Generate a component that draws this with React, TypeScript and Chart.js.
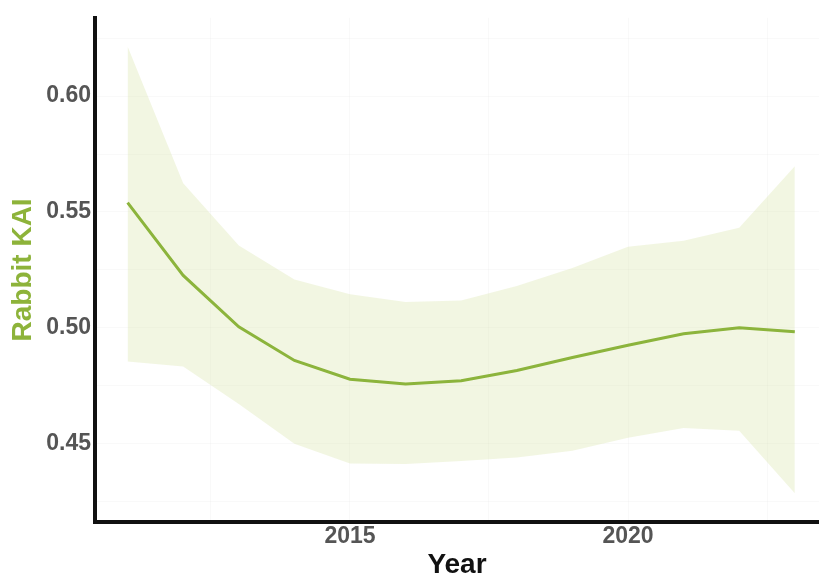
import React, { useEffect, useRef } from "react";
import { Chart, registerables } from "chart.js";

Chart.register(...registerables);

const years = [2011, 2012, 2013, 2014, 2015, 2016, 2017, 2018, 2019, 2020, 2021, 2022, 2023];
const kai = [0.554, 0.5226, 0.5004, 0.4859, 0.4778, 0.4758, 0.4772, 0.4816, 0.4872, 0.4925, 0.4974, 0.5, 0.4983];
const upper = [0.6214, 0.5624, 0.5355, 0.5209, 0.5145, 0.5111, 0.5118, 0.518, 0.5258, 0.535, 0.5376, 0.5432, 0.5697];
const lower = [0.4855, 0.4833, 0.4671, 0.45, 0.4415, 0.4412, 0.4425, 0.444, 0.447, 0.4526, 0.4568, 0.4556, 0.4286];

const xTickLabels = [2015, 2020];
const yTickLabels = [0.45, 0.5, 0.55, 0.6];
const xGridValues = [2012.5, 2015, 2017.5, 2020, 2022.5];
const yGridValues = [0.425, 0.45, 0.475, 0.5, 0.525, 0.55, 0.575, 0.6, 0.625];

const LINE_GREEN = "#8cb43c";
const TITLE_GREEN = "#8db33a";
const BAND = "rgba(205,220,140,0.25)";
const GRID = "rgba(0,0,0,0.025)";
const FONT = "'Liberation Sans', Arial, Helvetica, sans-serif";

function App() {
  const canvasRef = useRef<HTMLCanvasElement | null>(null);

  useEffect(() => {
    if (!canvasRef.current) return;
    const toPts = (vals: number[]) => years.map((y, i) => ({ x: y, y: vals[i] }));
    const chart = new Chart(canvasRef.current, {
      type: "line",
      data: {
        datasets: [
          {
            data: toPts(kai),
            borderColor: LINE_GREEN,
            borderWidth: 3,
            pointRadius: 0,
            fill: false,
            tension: 0,
          },
          {
            data: toPts(upper),
            borderWidth: 0,
            borderColor: "rgba(0,0,0,0)",
            backgroundColor: BAND,
            pointRadius: 0,
            fill: "+1",
            tension: 0,
          },
          {
            data: toPts(lower),
            borderWidth: 0,
            borderColor: "rgba(0,0,0,0)",
            pointRadius: 0,
            fill: false,
            tension: 0,
          },
        ],
      },
      options: {
        animation: false,
        responsive: false,
        devicePixelRatio: 1,
        layout: { padding: { top: 13, left: 0, right: 0, bottom: 0 } },
        plugins: {
          legend: { display: false },
          tooltip: { enabled: false },
          filler: { drawTime: "beforeDatasetsDraw" },
        },
        scales: {
          x: {
            type: "linear",
            min: 2010.414,
            max: 2023.435,
            afterFit: (s: any) => {
              s.height = 59;
            },
            afterBuildTicks: (s: any) => {
              s.ticks = xGridValues.map((v) => ({ value: v }));
            },
            grid: { color: GRID, lineWidth: 1, drawTicks: false },
            border: { display: true, color: "#111", width: 4 },
            ticks: {
              autoSkip: false,
              maxRotation: 0,
              padding: 1,
              color: "#555",
              font: { family: FONT, size: 23, weight: "bold", lineHeight: 1.2 },
              callback: (v: any) => {
                const n = Number(v);
                return xTickLabels.some((t) => Math.abs(t - n) < 1e-6) ? String(n) : "";
              },
            },
            title: {
              display: true,
              text: "Year",
              color: "#111",
              padding: { top: 0, bottom: 0 },
              font: { family: FONT, size: 28, weight: "bold", lineHeight: 1.1 },
            },
          },
          y: {
            type: "linear",
            min: 0.4162,
            max: 0.6338,
            afterFit: (s: any) => {
              s.width = 95;
            },
            afterBuildTicks: (s: any) => {
              s.ticks = yGridValues.map((v) => ({ value: v }));
            },
            grid: { color: GRID, lineWidth: 1, drawTicks: false },
            border: { display: true, color: "#111", width: 4 },
            ticks: {
              autoSkip: false,
              padding: 4,
              color: "#555",
              font: { family: FONT, size: 23, weight: "bold", lineHeight: 1.2 },
              callback: (v: any) => {
                const n = Number(v);
                return yTickLabels.some((t) => Math.abs(t - n) < 1e-6) ? n.toFixed(2) : "";
              },
            },
            title: {
              display: true,
              text: "Rabbit KAI",
              color: TITLE_GREEN,
              padding: { top: 6, bottom: 0 },
              font: { family: FONT, size: 28, weight: "bold", lineHeight: 1.2 },
            },
          },
        },
      },
    } as any);
    return () => chart.destroy();
  }, []);

  return (
    <div style={{ position: "absolute", left: 0, top: 0, width: 819, height: 581, background: "#fff" }}>
      <canvas ref={canvasRef} width={819} height={581} style={{ display: "block", width: 819, height: 581 }} />
    </div>
  );
}

export default App;
